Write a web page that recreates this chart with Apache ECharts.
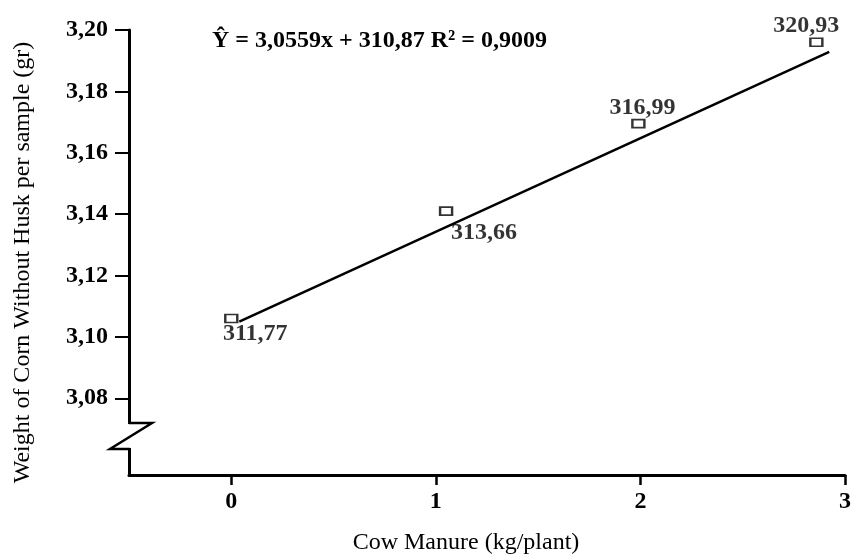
<!DOCTYPE html>
<html><head><meta charset="utf-8">
<script src="https://cdn.jsdelivr.net/npm/echarts@6.0.0/dist/echarts.min.js"></script>
<style>html,body{margin:0;padding:0;background:#fff}#c{width:853px;height:557px}</style>
</head><body><div id="c"></div>
<script>
// ---- data ----
const manure = [0, 1.05, 1.99, 2.86];
const weight = [3.106, 3.141, 3.1695, 3.196];
const pointLabels = ['311,77', '313,66', '316,99', '320,93'];
const fitX = [0.039, 2.923];
const fitY = [3.105, 3.1929];
const yTicks = [3.08, 3.10, 3.12, 3.14, 3.16, 3.18, 3.20];
const xTicks = [0, 1, 2, 3];
const equation = 'Ŷ = 3,0559x + 310,87 R² = 0,9009';

// ---- layout / style ----
const FONT = '"Liberation Serif", "Times New Roman", serif';
const FS = 24;
const G = { left: 129, right: 8, top: 30, bottom: 82 };
const labelOffsets = [[24, 15], [38, 22], [4, -16], [-10, -16]];

const chart = echarts.init(document.getElementById('c'));
const scatterData = manure.map((x, i) => ({
  value: [x, weight[i]],
  label: { formatter: pointLabels[i], offset: labelOffsets[i] }
}));
const fitData = fitX.map((x, i) => [x, fitY[i]]);

const axisX = G.left;
chart.setOption({
  animation: false,
  backgroundColor: '#fff',
  title: {
    text: equation, left: 212, top: 29, padding: 0,
    textStyle: { fontFamily: FONT, fontWeight: 'bold', fontSize: FS, color: '#000' }
  },
  grid: { left: G.left, right: G.right, top: G.top, bottom: G.bottom, containLabel: false, outerBoundsMode: 'none' },
  xAxis: {
    type: 'value', min: -0.5, max: 3,
    name: 'Cow Manure (kg/plant)', nameLocation: 'middle', nameGap: 56,
    nameTextStyle: { fontFamily: FONT, fontSize: FS, color: '#000', padding: [0, 42, 0, 0] },
    axisLine: { show: true, onZero: false, lineStyle: { color: '#000', width: 3 } },
    axisTick: { show: true, customValues: xTicks, length: 10, lineStyle: { color: '#000', width: 2.5 } },
    axisLabel: { customValues: xTicks, margin: 15, fontFamily: FONT, fontWeight: 'bold', fontSize: FS, color: '#000' },
    splitLine: { show: false }
  },
  yAxis: {
    type: 'value', min: 3.055, max: 3.20,
    name: 'Weight of Corn Without Husk per sample (gr)', nameLocation: 'middle', nameGap: 94, nameRotate: 90,
    nameTextStyle: { fontFamily: FONT, fontSize: FS, color: '#000', padding: [0, 20, 0, 0] },
    axisLine: { show: true, onZero: false, lineStyle: { color: '#000', width: 3 } },
    axisTick: { show: true, customValues: yTicks, length: 14, lineStyle: { color: '#000', width: 2 } },
    axisLabel: {
      customValues: yTicks, margin: 21, fontFamily: FONT, fontWeight: 'bold', fontSize: FS, color: '#000',
      formatter: v => v.toFixed(2).replace('.', ',')
    },
    splitLine: { show: false }
  },
  series: [
    {
      type: 'line', data: fitData, symbol: 'none', silent: true, z: 2,
      lineStyle: { color: '#000', width: 2.5 }
    },
    {
      type: 'scatter', data: scatterData, symbol: 'rect', symbolSize: [12, 8], z: 3,
      itemStyle: { color: '#fff', borderColor: '#000', borderWidth: 2 },
      label: {
        show: true, position: 'inside', fontFamily: FONT, fontWeight: 'bold', fontSize: FS, color: '#000'
      }
    }
  ],
  graphic: [
    { type: 'rect', z: 100, shape: { x: axisX - 5, y: 424, width: 10, height: 24 }, style: { fill: '#fff' } },
    {
      type: 'polyline', z: 101,
      shape: { points: [[axisX, 423], [axisX + 23, 423], [axisX - 19, 449], [axisX + 1, 449]] },
      style: { stroke: '#000', lineWidth: 2.5, fill: null }
    }
  ]
});
</script></body></html>
